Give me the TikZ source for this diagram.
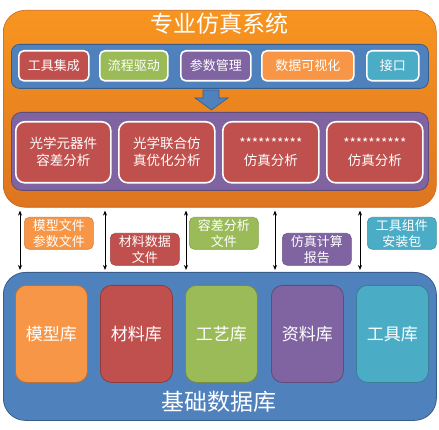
\documentclass[tikz,border=0pt]{standalone}
\usepackage{fontspec}
\setmainfont{Noto Sans CJK SC}
\usetikzlibrary{arrows.meta,calc}
\definecolor{ofOrange}{HTML}{F79646}
\definecolor{ofRed}{HTML}{C0504D}
\definecolor{ofGreen}{HTML}{9BBB59}
\definecolor{ofPurple}{HTML}{8064A2}
\definecolor{ofTeal}{HTML}{4BACC6}
\definecolor{ofBlue}{HTML}{4F81BD}
\definecolor{ofBlueDk}{HTML}{385D8A}
\definecolor{sysTop}{HTML}{F8951F}
\definecolor{sysBot}{HTML}{DD7520}
\tikzset{
  panel/.style={anchor=north west,inner sep=0pt,rounded corners=#1},
  toolbox/.style={anchor=north west,inner sep=0pt,draw=white,line width=1.6pt,rounded corners=5pt,
    minimum height=30pt,text=white,font=\fontsize{13}{15}\selectfont},
  taskbox/.style={anchor=north west,inner sep=0pt,draw=white,line width=1.6pt,rounded corners=9pt,
    minimum width=95pt,minimum height=61pt,fill=ofRed,text=white,align=center,font=\fontsize{13.5}{17}\selectfont},
  filebox/.style={anchor=north west,inner sep=0pt,draw=#1!85!black,line width=.6pt,rounded corners=5pt,
    minimum width=69pt,minimum height=32pt,fill=#1,text=white,align=center,font=\fontsize{13}{16}\selectfont},
  libbox/.style={anchor=north west,inner sep=0pt,draw=#1!75!black,line width=.8pt,rounded corners=11pt,
    minimum width=72pt,minimum height=97pt,fill=#1,text=white,font=\fontsize{17}{20}\selectfont},
  link/.style={{Stealth[length=5pt,width=4pt]}-{Stealth[length=5pt,width=4pt]},line width=.9pt,shorten <=3pt,shorten >=2pt},
}
\begin{document}
\begin{tikzpicture}[x=1pt,y=-1pt]
\path[use as bounding box] (0,0) rectangle (439,430);
\node[panel=22pt,minimum width=433pt,minimum height=197pt,top color=sysTop,bottom color=sysBot,draw=sysBot!90!black,line width=.6pt] (sys) at (3,10) {};
\node[text=white,font=\fontsize{23}{26}\selectfont] (systitle) at (219,24) {专业仿真系统};
\node[panel=8pt,minimum width=417pt,minimum height=44pt,fill=ofBlue,draw=ofBlueDk,line width=.8pt] (toolbar) at (11,44) {};
\node[toolbox,minimum width=70pt,fill=ofRed] (tool1) at (18,50) {工具集成};
\node[toolbox,minimum width=68pt,fill=ofGreen] (tool2) at (99,50) {流程驱动};
\node[toolbox,minimum width=70pt,fill=ofPurple] (tool3) at (180,50) {参数管理};
\node[toolbox,minimum width=92pt,fill=ofOrange] (tool4) at (261,50) {数据可视化};
\node[toolbox,minimum width=52pt,fill=ofTeal] (tool5) at (366,50) {接口};
\fill[ofBlue,draw=ofBlueDk,line width=.6pt] (203,90) -- (219,90) -- (219,98) -- (228,98) -- (211.5,110) -- (195,98) -- (203,98) -- cycle;
\node[panel=10pt,minimum width=417pt,minimum height=78pt,fill=ofPurple,draw=ofPurple!75!black,line width=.8pt] (taskbar) at (11,112) {};
\node[taskbox] (task1) at (15,121) {光学元器件\\容差分析};
\node[taskbox,minimum width=96pt] (task2) at (118,121) {光学联合仿\\真优化分析};
\node[taskbox,minimum width=96pt] (task3) at (222,121) {**********\\仿真分析};
\node[taskbox,minimum width=96pt] (task4) at (326,121) {**********\\仿真分析};
\node[panel=22pt,minimum width=433pt,minimum height=148pt,fill=ofBlue,draw=ofBlueDk,line width=.8pt] (db) at (3,272) {};
\node[text=white,font=\fontsize{23}{26}\selectfont] (dbtitle) at (219,402) {基础数据库};
\node[libbox=ofOrange] (lib1) at (15,285) {模型库};
\node[libbox=ofRed] (lib2) at (100,285) {材料库};
\node[libbox=ofGreen] (lib3) at (185,285) {工艺库};
\node[libbox=ofPurple] (lib4) at (271,285) {资料库};
\node[libbox=ofTeal] (lib5) at (356,285) {工具库};
\node[filebox=ofOrange] (file1) at (24,217) {模型文件\\参数文件};
\node[filebox=ofRed] (file2) at (110,233) {材料数据\\文件};
\node[filebox=ofGreen] (file3) at (189,217) {容差分析\\文件};
\node[filebox=ofPurple] (file4) at (282,233) {仿真计算\\报告};
\node[filebox=ofTeal] (file5) at (367,217) {工具组件\\安装包};
\draw[link] ($(sys.south -| file1.west)+(-4,0)$) -- ($(db.north -| file1.west)+(-4,0)$);
\draw[link] ($(sys.south -| file2.west)+(-5,0)$) -- ($(db.north -| file2.west)+(-5,0)$);
\draw[link] ($(sys.south -| file3.west)+(-3,0)$) -- ($(db.north -| file3.west)+(-3,0)$);
\draw[link] ($(sys.south -| file4.west)+(-7,0)$) -- ($(db.north -| file4.west)+(-7,0)$);
\draw[link] ($(sys.south -| file5.west)+(-7,0)$) -- ($(db.north -| file5.west)+(-7,0)$);
\end{tikzpicture}
\end{document}
